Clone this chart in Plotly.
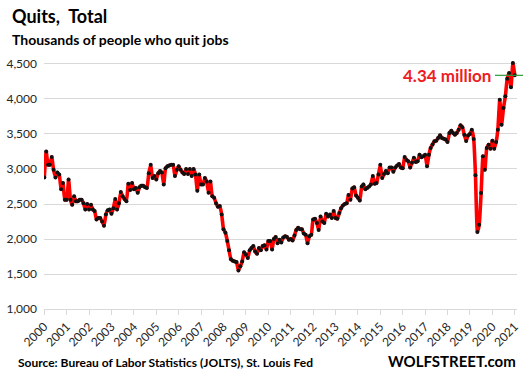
import plotly.graph_objects as go
import pandas as pd

# Monthly quits (thousands), Dec 2000 - Dec 2021
quits_2000 = [2880]
quits_2001 = [3250, 3060, 3060, 3170, 2990, 2880, 2950, 2920, 2710, 2800, 2560, 2560]
quits_2002 = [2850, 2560, 2490, 2610, 2540, 2540, 2560, 2560, 2510, 2420, 2500, 2420]
quits_2003 = [2490, 2420, 2400, 2280, 2300, 2300, 2250, 2190, 2350, 2410, 2420, 2360]
quits_2004 = [2440, 2570, 2420, 2510, 2670, 2610, 2570, 2540, 2790, 2700, 2800, 2710]
quits_2005 = [2730, 2660, 2740, 2760, 2760, 2740, 2730, 2940, 3060, 2870, 2900, 2850]
quits_2006 = [2940, 2970, 2950, 2780, 3010, 3040, 3050, 3060, 3060, 2900, 2990, 3040]
quits_2007 = [2990, 2950, 2930, 3000, 2930, 3000, 2900, 3000, 2920, 2690, 2920, 2780]
quits_2008 = [2780, 2870, 2820, 2660, 2820, 2610, 2590, 2510, 2460, 2470, 2350, 2140]
quits_2009 = [2090, 1970, 1840, 1710, 1690, 1680, 1670, 1550, 1610, 1680, 1810, 1780]
quits_2010 = [1730, 1840, 1870, 1900, 1820, 1790, 1870, 1840, 1900, 1910, 1850, 1970]
quits_2011 = [1970, 1850, 2000, 2030, 1940, 1990, 1950, 2020, 2040, 2030, 1990, 2000]
quits_2012 = [1980, 2050, 2130, 2160, 2140, 2140, 2080, 2060, 1940, 2040, 2060, 2280]
quits_2013 = [2290, 2230, 2130, 2320, 2250, 2230, 2360, 2320, 2350, 2300, 2400, 2300]
quits_2014 = [2290, 2370, 2440, 2480, 2500, 2510, 2630, 2560, 2720, 2740, 2620, 2590]
quits_2015 = [2550, 2750, 2780, 2710, 2730, 2750, 2780, 2900, 2790, 2800, 2920, 3060]
quits_2016 = [2870, 2930, 2970, 2940, 3020, 3020, 2960, 3020, 3050, 3070, 3020, 3010]
quits_2017 = [3170, 3130, 3110, 3020, 3090, 3160, 3100, 3110, 3205, 3167, 3181, 3205]
quits_2018 = [3040, 3205, 3300, 3350, 3395, 3405, 3443, 3481, 3443, 3433, 3420, 3386]
quits_2019 = [3514, 3548, 3514, 3490, 3514, 3562, 3624, 3595, 3490, 3400, 3480, 3500]
quits_2020 = [3560, 3430, 2910, 2100, 2205, 2657, 3181, 2990, 3300, 3348, 3290, 3405]
quits_2021 = [3290, 3386, 3562, 3990, 3633, 3871, 4038, 4290, 4371, 4167, 4514, 4338]

quits = (quits_2000 + quits_2001 + quits_2002 + quits_2003 + quits_2004 + quits_2005 +
         quits_2006 + quits_2007 + quits_2008 + quits_2009 + quits_2010 + quits_2011 +
         quits_2012 + quits_2013 + quits_2014 + quits_2015 + quits_2016 + quits_2017 +
         quits_2018 + quits_2019 + quits_2020 + quits_2021)
dates = pd.date_range("2000-12-01", periods=len(quits), freq="MS")

tick_years = list(range(2000, 2022))
tick_dates = [f"{y}-12-01" for y in tick_years]
tick_labels = [str(y) for y in tick_years]
y_ticks = [1000, 1500, 2000, 2500, 3000, 3500, 4000, 4500]
y_tick_labels = [f"{v:,}" for v in y_ticks]

last_label = "4.34 million"

W, H = 524, 374
L, R, T, B = 44, 7, 60, 65
PW, PH = W - L - R, H - T - B
Y0, Y1 = 1000, 4557


def px_x(px):
    return (px - L) / PW


def px_y(py):
    return (H - B - py) / PH


fig = go.Figure()
fig.add_trace(go.Scatter(
    x=dates, y=quits, mode="lines+markers",
    line=dict(color="#ff0000", width=3.6, shape="spline", smoothing=0.4),
    marker=dict(color="#111111", size=4),
    showlegend=False, hoverinfo="x+y",
))

# green marker line at latest value
fig.add_shape(type="line", xref="paper", yref="paper",
              x0=px_x(495), x1=px_x(523),
              y0=(quits[-1] - Y0) / (Y1 - Y0), y1=(quits[-1] - Y0) / (Y1 - Y0),
              line=dict(color="#2e9a3e", width=1.2))

fig.add_annotation(text=last_label, xref="paper", yref="y", x=px_x(493), y=quits[-1],
                   xanchor="right", yanchor="middle", showarrow=False,
                   font=dict(family="Lato", size=17, color="#ee1c25", weight="bold"))

fig.add_annotation(text="Quits,  Total", xref="paper", yref="paper",
                   x=px_x(10), y=px_y(16), xanchor="left", yanchor="middle", showarrow=False,
                   font=dict(family="Lato", size=18, color="#000000", weight="bold"))
fig.add_annotation(text="Thousands of people who quit jobs", xref="paper", yref="paper",
                   x=px_x(10), y=px_y(39), xanchor="left", yanchor="middle", showarrow=False,
                   font=dict(family="Lato", size=14, color="#000000", weight="bold"))
fig.add_annotation(text="Source: Bureau of Labor Statistics (JOLTS), St. Louis Fed", xref="paper", yref="paper",
                   x=px_x(16), y=px_y(362), xanchor="left", yanchor="middle", showarrow=False,
                   font=dict(family="Lato", size=12, color="#000000", weight="bold"))
fig.add_annotation(text="WOLFSTREET.com", xref="paper", yref="paper",
                   x=px_x(518), y=px_y(361), xanchor="right", yanchor="middle", showarrow=False,
                   font=dict(family="Lato", size=15, color="#000000", weight="bold"))

fig.update_xaxes(
    type="date", range=["2000-11-26", "2022-01-07"],
    tickmode="array", tickvals=tick_dates, ticktext=tick_labels, tickangle=-45,
    showgrid=False, showline=True, linecolor="#d9d9d9", linewidth=1,
    ticks="outside", ticklen=5, tickcolor="#d9d9d9",
    tickfont=dict(family="Lato", size=12, color="#262626"), zeroline=False,
)
fig.update_yaxes(
    range=[Y0, Y1], tickmode="array", tickvals=y_ticks, ticktext=y_tick_labels,
    showgrid=True, gridcolor="#d9d9d9", gridwidth=1, zeroline=False, showline=False,
    tickfont=dict(family="Lato", size=12, color="#262626"), ticks="", ticklabelstandoff=6,
)
fig.update_layout(
    width=W, height=H, margin=dict(l=L, r=R, t=T, b=B, autoexpand=False),
    paper_bgcolor="white", plot_bgcolor="white",
)
fig.write_html("out.html", config={"displayModeBar": False},
               post_script="document.body.style.margin='0';document.body.style.padding='0';document.body.style.overflow='hidden';")
